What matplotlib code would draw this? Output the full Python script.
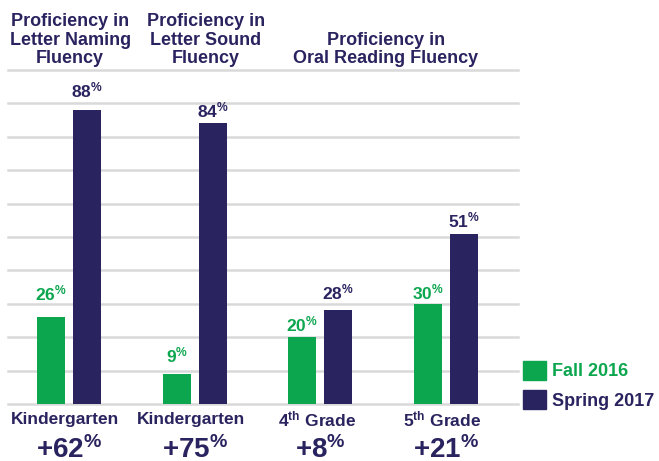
import matplotlib
matplotlib.use("Agg")
import matplotlib.pyplot as plt
from matplotlib.patches import Patch

plt.rcParams['font.family'] = 'Liberation Sans'
plt.rcParams['font.weight'] = 'bold'
plt.rcParams['mathtext.fontset'] = 'custom'
plt.rcParams['mathtext.rm'] = 'Liberation Sans:bold'
plt.rcParams['mathtext.bf'] = 'Liberation Sans:bold'
plt.rcParams['mathtext.it'] = 'Liberation Sans:bold'

# data
categories = ['Kindergarten', 'Kindergarten', '4$^{\\mathrm{th}}$ Grade', '5$^{\\mathrm{th}}$ Grade']
fall_2016 = [26, 9, 20, 30]
spring_2017 = [88, 84, 28, 51]
gains = [62, 75, 8, 21]
titles = ['Proficiency in\nLetter Naming\nFluency',
          'Proficiency in\nLetter Sound\nFluency',
          'Proficiency in\nOral Reading Fluency']
title_x = [0.01, 1.09, 2.52]

GREEN = '#0ca64f'
NAVY = '#29235f'
GRID = '#d9d9d9'

# label gaps above the bars (points)
fall_pad = [10, 6, 2, 1]
spring_pad = [7, 2, 6, 2]

fig = plt.figure(figsize=(6.59, 4.61), dpi=100)
ax = fig.add_axes([8 / 659, 1 - 404 / 461, 510 / 659, 334 / 461])

x = list(range(len(categories)))
w = 0.222
off = 0.143

for g in range(0, 101, 10):
    ax.axhline(g, color=GRID, lw=1.8, zorder=0, clip_on=False)

fb = ax.bar([i - off for i in x], fall_2016, w, color=GREEN, zorder=2)
sb = ax.bar([i + off for i in x], spring_2017, w, color=NAVY, zorder=2)

for i in x:
    ax.annotate(f'{fall_2016[i]}$^{{\\%}}$', (i - off, fall_2016[i]),
                xytext=(0, fall_pad[i]), textcoords='offset points',
                ha='center', va='bottom', color=GREEN, fontsize=12.5)
    ax.annotate(f'{spring_2017[i]}$^{{\\%}}$', (i + off, spring_2017[i]),
                xytext=(0, spring_pad[i]), textcoords='offset points',
                ha='center', va='bottom', color=NAVY, fontsize=12.5)
    ax.annotate(categories[i], (i - 0.03, 0), xytext=(0, -11), textcoords='offset points',
                ha='center', va='center', color=NAVY, fontsize=12.5)
    ax.annotate(f'+{gains[i]}$^{{\\%}}$', (i, 0), xytext=(0, -33), textcoords='offset points',
                ha='center', va='center', color=NAVY, fontsize=20)

for t, tx in zip(titles, title_x):
    ax.annotate(t, (tx, 100), xytext=(0, 2), textcoords='offset points',
                ha='center', va='bottom', color=NAVY, fontsize=13, linespacing=1.12)

ax.set_xlim(-0.485, 3.572)
ax.set_ylim(0, 100)
ax.axis('off')

handles = [Patch(color=GREEN), Patch(color=NAVY)]
leg = fig.legend(handles, ['Fall 2016', 'Spring 2017'], loc='lower left',
                 bbox_to_anchor=(523 / 659, 1 - 410 / 461), frameon=False,
                 fontsize=13, handlelength=1.3, handleheight=1.25,
                 handletextpad=0.3, labelspacing=0.55, borderpad=0, borderaxespad=0)
for txt, c in zip(leg.get_texts(), [GREEN, NAVY]):
    txt.set_color(c)

fig.savefig('out.png', dpi=100)
